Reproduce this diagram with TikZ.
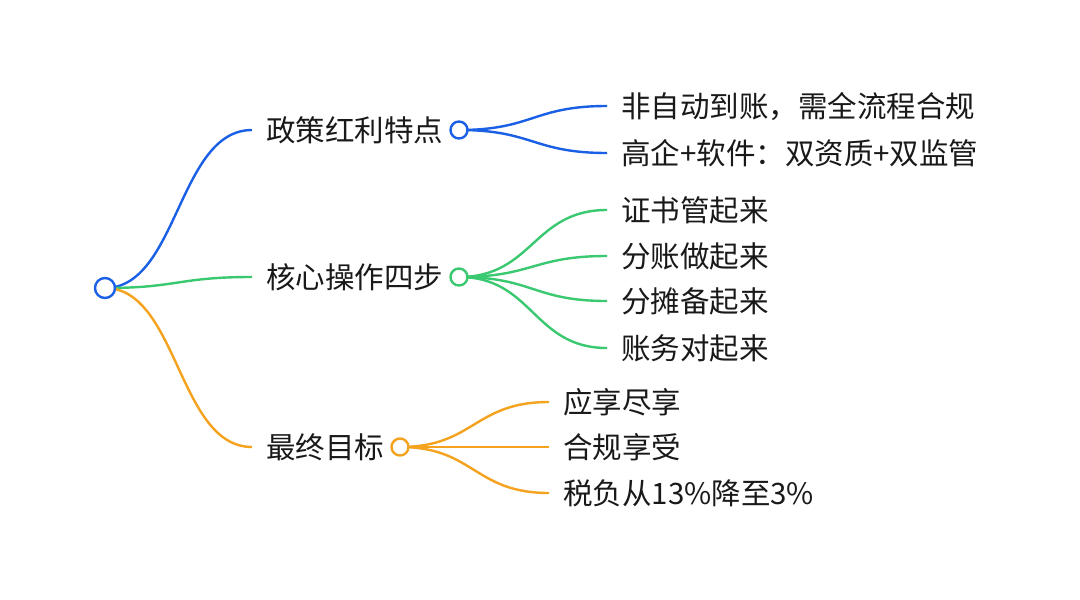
\documentclass[tikz,border=0pt]{standalone}
\usepackage{fontspec}
\newfontfamily\cjk{Noto Sans CJK SC}
\definecolor{cblue}{RGB}{26,96,230}
\definecolor{cgreen}{RGB}{58,200,112}
\definecolor{corange}{RGB}{245,162,30}
\definecolor{ctext}{RGB}{25,25,25}
\begin{document}
\begin{tikzpicture}[x=1pt,y=-1pt,
  lbl/.style={anchor=base west,inner sep=0pt,font=\cjk\fontsize{29.5}{32}\selectfont,text=ctext},
  dot/.style={circle,line width=2.4pt,inner sep=0pt,minimum size=#1},
  link/.style={line width=2.4pt}]
\useasboundingbox[fill=white] (0,0) rectangle (1080,600);
% coordinates
\coordinate (r) at (105,288);
\coordinate (b) at (459,130);
\coordinate (g) at (459,277);
\coordinate (o) at (400,447);
\coordinate (be) at (252,130);
\coordinate (ge) at (252,277);
\coordinate (oe) at (252,447);
\coordinate (b1) at (607,106);
\coordinate (b2) at (607,153);
\coordinate (g1) at (607,210);
\coordinate (g2) at (607,256);
\coordinate (g3) at (607,301);
\coordinate (g4) at (607,348);
\coordinate (o1) at (549,402);
\coordinate (o2) at (549,447);
\coordinate (o3) at (549,493);
% links from root
\draw[link,cblue] (r) .. controls (178,288) and (178,130) .. (be);
\draw[link,cgreen] (r) .. controls (178,288) and (178,277) .. (ge);
\draw[link,corange] (r) .. controls (178,288) and (178,447) .. (oe);
% child links
\draw[link,cblue] (b) .. controls (533,130) and (533,106) .. (b1);
\draw[link,cblue] (b) .. controls (533,130) and (533,153) .. (b2);
\draw[link,cgreen] (g) .. controls (533,277) and (533,210) .. (g1);
\draw[link,cgreen] (g) .. controls (533,277) and (533,256) .. (g2);
\draw[link,cgreen] (g) .. controls (533,277) and (533,301) .. (g3);
\draw[link,cgreen] (g) .. controls (533,277) and (533,348) .. (g4);
\draw[link,corange] (o) .. controls (474,447) and (474,402) .. (o1);
\draw[link,corange] (o) .. controls (474,447) and (474,447) .. (o2);
\draw[link,corange] (o) .. controls (474,447) and (474,493) .. (o3);
% circles
\node[dot=20pt,draw=cblue,fill=white] (rc) at (r) {};
\node[dot=17pt,draw=cblue,fill=white] (bc) at (b) {};
\node[dot=17pt,draw=cgreen,fill=white] (gc) at (g) {};
\node[dot=17pt,draw=corange,fill=white] (oc) at (o) {};
% labels (baseline about 11 below the line end)
\node[lbl] (bt) at (266,141) {政策红利特点};
\node[lbl] (gt) at (266,288) {核心操作四步};
\node[lbl] (ot) at (266,458) {最终目标};
\node[lbl] (bt1) at (621,117) {非自动到账，需全流程合规};
\node[lbl] (bt2) at (621,164) {高企+软件：双资质+双监管};
\node[lbl] (gt1) at (621,221) {证书管起来};
\node[lbl] (gt2) at (621,267) {分账做起来};
\node[lbl] (gt3) at (621,312) {分摊备起来};
\node[lbl] (gt4) at (621,359) {账务对起来};
\node[lbl] (ot1) at (563,413) {应享尽享};
\node[lbl] (ot2) at (563,458) {合规享受};
\node[lbl] (ot3) at (563,504) {税负从13\%降至3\%};
\end{tikzpicture}
\end{document}
